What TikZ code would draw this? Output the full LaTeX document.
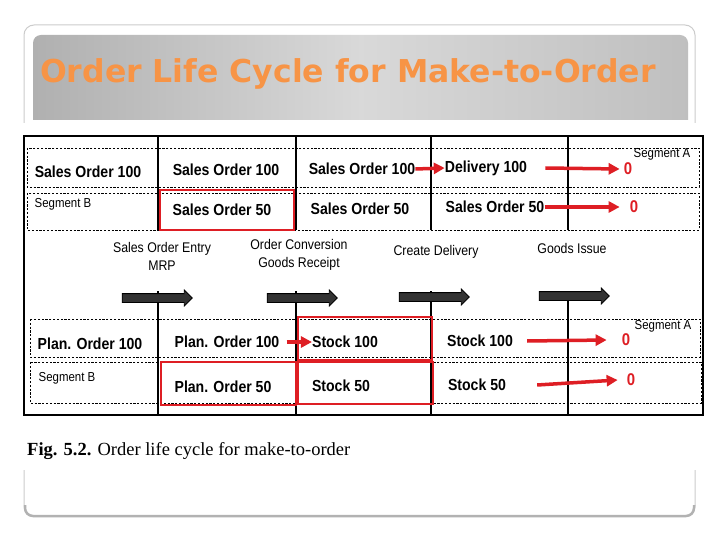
\documentclass[tikz,border=0pt]{standalone}
\usepackage{fontspec}
\setmainfont{Liberation Serif}
\newfontfamily\figfont[FakeStretch=0.88]{Liberation Sans}
\newfontfamily\titlefont{DejaVu Sans}
\usetikzlibrary{arrows.meta,shapes.arrows}
\definecolor{titleorange}{RGB}{247,148,70}
\definecolor{markred}{RGB}{222,30,36}

\begin{document}
\begin{tikzpicture}[x=1pt,y=1pt]
	\tikzstyle{every node}+=[inner sep=0pt]
	\tikzstyle{cell}=[font=\figfont\bfseries\fontsize{16}{18}\selectfont]
	\tikzstyle{stage}=[font=\figfont\fontsize{14}{18}\selectfont, align=center]
	\tikzstyle{seglabel}=[font=\figfont\fontsize{13}{15}\selectfont]
	\tikzstyle{zero}=[font=\figfont\bfseries\fontsize{17}{19}\selectfont, text=markred]
	\tikzstyle{segbox}=[line width=0.9pt, dash pattern=on 2.2pt off 1.6pt]
	\tikzstyle{hibox}=[draw=markred, line width=2.2pt]
	\tikzstyle{flow}=[draw=markred, line width=3.5pt, -{Triangle[length=11pt,width=11pt]}]
	\tikzstyle{stagearrow}=[single arrow, draw=black, fill=black!80, line width=0.8pt, inner xsep=0pt, inner ysep=4pt, minimum height=70pt, single arrow head extend=3.5pt]
	\useasboundingbox (0,0) rectangle (720,-540);
	\fill [white] (0,0) rectangle (720,-540);
	% slide frame and title band
	\draw [gray!40, line width=1pt, rounded corners=10pt] (24,-25) rectangle (695,-516);
	\draw [gray!60, line width=2.5pt, rounded corners=8pt] (25,-505) -- (25,-516) -- (694,-516) -- (694,-505);
	\shade [left color=gray!62, right color=gray!50, middle color=gray!30] (33,-120) [rounded corners=8pt] -- (33,-35) -- (688,-35) [sharp corners] -- (688,-120) -- cycle;
	\draw (40,-83) node [anchor=base west, font=\titlefont\bfseries\fontsize{31.5}{36}\selectfont, text=titleorange] (title) {Order Life Cycle for Make-to-Order};
	% figure
	\fill [white] (20,-123) rectangle (707,-470);
	\draw [line width=1.3pt] (24,-136) rectangle (703,-415);
	\draw [line width=1.1pt] (158,-136) -- (158,-230);
	\draw [line width=1.1pt] (296,-136) -- (296,-230);
	\draw [line width=1.1pt] (431,-136) -- (431,-230);
	\draw [line width=1.1pt] (568,-136) -- (568,-230);
	\draw [line width=1.1pt] (158,-291) -- (158,-415);
	\draw [line width=1.1pt] (296,-291) -- (296,-415);
	\draw [line width=1.1pt] (431,-291) -- (431,-415);
	\draw [line width=1.1pt] (568,-291) -- (568,-415);
	\draw [segbox] (27,-148) rectangle (699,-187);
	\draw [segbox] (27,-193) rectangle (699,-230);
	\draw [segbox] (30,-319) rectangle (700,-357);
	\draw [segbox] (30,-362) rectangle (701,-403);
	\draw [hibox] (160,-190) rectangle (294,-230);
	\draw [hibox] (298,-317) rectangle (432,-360);
	\draw [hibox] (161,-362) rectangle (296,-405);
	\draw [hibox] (298,-362) rectangle (433,-404);
	% sales orders
	\draw (88,-172) node [cell] (sa1) {Sales Order 100};
	\draw (226,-170) node [cell] (sa2) {Sales Order 100};
	\draw (362,-169) node [cell] (sa3) {Sales Order 100};
	\draw (486,-168) node [cell] (del) {Delivery 100};
	\draw (628,-169) node [zero] (z1) {0};
	\draw (662,-154) node [seglabel] (segA1) {Segment A};
	\draw (63,-204) node [seglabel] (segB1) {Segment B};
	\draw (222,-210) node [cell] (sb1) {Sales Order 50};
	\draw (360,-209) node [cell] (sb2) {Sales Order 50};
	\draw (495,-207) node [cell] (sb3) {Sales Order 50};
	\draw (634,-207) node [zero] (z2) {0};
	% steps
	\draw (162,-256) node [stage] (entry) {Sales Order Entry\\MRP};
	\draw (299,-255) node [stage] (conv) {Order Conversion\\Goods Receipt};
	\draw (436,-252) node [stage] (cdel) {Create Delivery};
	\draw (572,-248) node [stage] (gi) {Goods Issue};
	\draw (155,-298) node [stagearrow] (ar1) {};
	\draw (300,-298) node [stagearrow] (ar2) {};
	\draw (432,-297) node [stagearrow] (ar3) {};
	\draw (572,-296) node [stagearrow] (ar4) {};
	% planned orders and stock
	\draw (90,-344) node [cell] (pa1) {Plan. Order 100};
	\draw (227,-342) node [cell] (pa2) {Plan. Order 100};
	\draw (345,-342) node [cell] (sk1) {Stock 100};
	\draw (480,-341) node [cell] (sk2) {Stock 100};
	\draw (626,-340) node [zero] (z3) {0};
	\draw (663,-326) node [seglabel] (segA2) {Segment A};
	\draw (67,-378) node [seglabel] (segB2) {Segment B};
	\draw (223,-387) node [cell] (pb1) {Plan. Order 50};
	\draw (341,-386) node [cell] (sk3) {Stock 50};
	\draw (477,-385) node [cell] (sk4) {Stock 50};
	\draw (631,-380) node [zero] (z4) {0};
	\draw [flow] (sa3.east) -- (del.west);
	\draw [flow] ([xshift=18pt]del.east) -- ([xshift=-4pt]z1.west);
	\draw [flow] (sb3.east) -- ([xshift=-10pt]z2.west);
	\draw [flow] ([xshift=7pt]pa2.east) -- (sk1.west);
	\draw [flow] ([xshift=14pt]sk2.east) -- ([xshift=-15pt]z3.west);
	\draw [flow] ([xshift=31pt]sk4.east) -- ([xshift=-9pt]z4.west);
	\draw (27,-455) node [anchor=base west, font=\fontsize{18.5}{22}\selectfont] (caption) {\textbf{Fig. 5.2.} Order life cycle for make-to-order};
\end{tikzpicture}
\end{document}
